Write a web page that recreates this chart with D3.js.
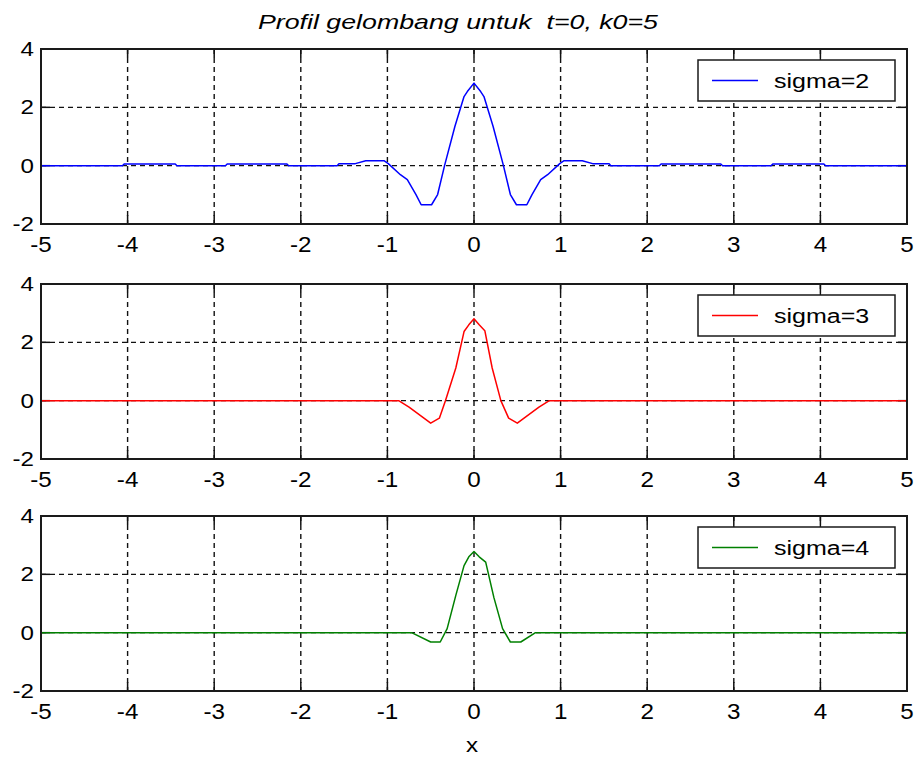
<!DOCTYPE html>
<html>
<head>
<meta charset="utf-8">
<script src="https://cdn.jsdelivr.net/npm/d3@7"></script>
<style>
  body { margin: 0; background: #fff; }
  text { font-family: "Liberation Sans", Arial, sans-serif; fill: #000; }
</style>
</head>
<body>
<div id="chart"></div>
<script>
// values
const xTicks = [-5, -4, -3, -2, -1, 0, 1, 2, 3, 4, 5];
const yTicks = [-2, 0, 2, 4];
const titleText = "Profil gelombang untuk\u00a0\u00a0t=0, k0=5";
const xLabel = "x";

const sigma2X = [-5, -4.06, -4.04, -3.45, -3.43, -2.87, -2.85, -2.16, -2.14, -1.58, -1.56, -1.37, -1.25, -1.04, -0.99, -0.85, -0.77, -0.67, -0.61, -0.49, -0.42, -0.34, -0.22, -0.115, -0.077, 0,
                 0.077, 0.115, 0.22, 0.34, 0.42, 0.49, 0.61, 0.67, 0.77, 0.85, 0.99, 1.04, 1.25, 1.37, 1.56, 1.58, 2.14, 2.16, 2.85, 2.87, 3.43, 3.45, 4.04, 4.06, 5];
const sigma2Y = [0, 0, 0.06, 0.06, 0, 0, 0.06, 0.06, 0, 0, 0.07, 0.07, 0.17, 0.17, 0.07, -0.31, -0.48, -0.99, -1.34, -1.34, -0.99, 0, 1.35, 2.37, 2.54, 2.83,
                 2.54, 2.37, 1.35, 0, -0.99, -1.34, -1.34, -0.99, -0.48, -0.31, 0.07, 0.17, 0.17, 0.07, 0.07, 0, 0, 0.06, 0.06, 0, 0, 0.06, 0.06, 0, 0];

const sigma3X = [-5, -0.87, -0.75, -0.5, -0.4, -0.33, -0.21, -0.115, -0.06, 0, 0.06, 0.125, 0.21, 0.31, 0.4, 0.5, 0.75, 0.87, 5];
const sigma3Y = [0, 0, -0.22, -0.77, -0.6, 0, 1.12, 2.37, 2.6, 2.81, 2.6, 2.4, 1.12, 0, -0.6, -0.77, -0.22, 0, 0];

const sigma4X = [-5, -0.72, -0.5, -0.39, -0.31, -0.21, -0.115, -0.06, 0, 0.06, 0.135, 0.23, 0.33, 0.42, 0.54, 0.71, 5];
const sigma4Y = [0, 0, -0.32, -0.32, 0.14, 1.28, 2.3, 2.6, 2.78, 2.6, 2.42, 1.2, 0.14, -0.32, -0.32, 0, 0];

const panels = [
    {label: "sigma=2", color: "#0000ff", xs: sigma2X, ys: sigma2Y, top: 49},
    {label: "sigma=3", color: "#ff0000", xs: sigma3X, ys: sigma3Y, top: 284},
    {label: "sigma=4", color: "#008000", xs: sigma4X, ys: sigma4Y, top: 516}
];

const width = 918;
const height = 762;
const left = 41;
const plotW = 866;
const plotH = 175;

const svg = d3.select("#chart")
    .append("svg")
    .attr("width", width)
    .attr("height", height);

const x = d3.scaleLinear().domain([-5, 5]).range([left, left + plotW]);

// text in the reference is a little wider than Liberation Sans
const wideText = (sel, px, py, sx) =>
    sel.attr("transform", `translate(${px},${py}) scale(${sx},1)`);

svg.append("text")
    .attr("x", 258)
    .attr("y", 29)
    .attr("textLength", 400)
    .attr("lengthAdjust", "spacingAndGlyphs")
    .style("font-size", "21px")
    .style("font-style", "italic")
    .text(titleText);

panels.forEach(p => {
    const y = d3.scaleLinear().domain([-2, 4]).range([p.top + plotH, p.top]);
    const g = svg.append("g");

    // dashed grid
    g.selectAll(".vgrid")
        .data(xTicks.slice(1, -1))
        .enter().append("line")
        .attr("x1", d => x(d)).attr("x2", d => x(d))
        .attr("y1", p.top).attr("y2", p.top + plotH)
        .attr("stroke", "#111").attr("stroke-width", 1.4)
        .attr("stroke-dasharray", "5,4");
    g.selectAll(".hgrid")
        .data(yTicks.slice(1, -1))
        .enter().append("line")
        .attr("x1", left).attr("x2", left + plotW)
        .attr("y1", d => y(d)).attr("y2", d => y(d))
        .attr("stroke", "#111").attr("stroke-width", 1.4)
        .attr("stroke-dasharray", "5,4");

    // inner ticks on all four sides
    const tl = 9;
    xTicks.forEach(t => {
        g.append("line").attr("x1", x(t)).attr("x2", x(t))
            .attr("y1", p.top + plotH).attr("y2", p.top + plotH - tl)
            .attr("stroke", "#111").attr("stroke-width", 1.5);
        g.append("line").attr("x1", x(t)).attr("x2", x(t))
            .attr("y1", p.top).attr("y2", p.top + tl)
            .attr("stroke", "#111").attr("stroke-width", 1.5);
    });
    yTicks.forEach(t => {
        g.append("line").attr("x1", left).attr("x2", left + tl)
            .attr("y1", y(t)).attr("y2", y(t))
            .attr("stroke", "#111").attr("stroke-width", 1.5);
        g.append("line").attr("x1", left + plotW).attr("x2", left + plotW - tl)
            .attr("y1", y(t)).attr("y2", y(t))
            .attr("stroke", "#111").attr("stroke-width", 1.5);
    });

    // the curve
    const pts = p.xs.map((v, i) => [v, p.ys[i]]);
    g.append("path")
        .datum(pts)
        .attr("fill", "none")
        .attr("stroke", p.color)
        .attr("stroke-width", 1.5)
        .attr("stroke-linejoin", "round")
        .attr("d", d3.line().x(d => x(d[0])).y(d => y(d[1])));

    // frame
    g.append("rect")
        .attr("x", left).attr("y", p.top)
        .attr("width", plotW).attr("height", plotH)
        .attr("fill", "none")
        .attr("stroke", "#1a1a1a")
        .attr("stroke-width", 2);

    // tick labels
    g.selectAll(".xl")
        .data(xTicks)
        .enter().append("text")
        .each(function(d) { wideText(d3.select(this), x(d), p.top + plotH + 28, 1.1); })
        .attr("text-anchor", "middle")
        .style("font-size", "22px")
        .text(d => d);
    g.selectAll(".yl")
        .data(yTicks)
        .enter().append("text")
        .each(function(d) { wideText(d3.select(this), left - 7, y(d) + 7, 1.15); })
        .attr("text-anchor", "end")
        .style("font-size", "21px")
        .text(d => d);

    // legend
    const lx = 698, ly = p.top + 11, lw = 197, lh = 41;
    g.append("rect")
        .attr("x", lx).attr("y", ly)
        .attr("width", lw).attr("height", lh)
        .attr("fill", "#fff")
        .attr("stroke", "#1a1a1a")
        .attr("stroke-width", 1.5);
    g.append("line")
        .attr("x1", lx + 14).attr("x2", lx + 60)
        .attr("y1", ly + lh / 2).attr("y2", ly + lh / 2)
        .attr("stroke", p.color).attr("stroke-width", 1.5);
    g.append("text")
        .call(wideText, lx + 76, ly + lh / 2 + 7, 1.25)
        .style("font-size", "20px")
        .text(p.label);
});

svg.append("text")
    .call(wideText, x(0) - 2, 752, 1.15)
    .attr("text-anchor", "middle")
    .style("font-size", "21px")
    .text(xLabel);
</script>
</body>
</html>
